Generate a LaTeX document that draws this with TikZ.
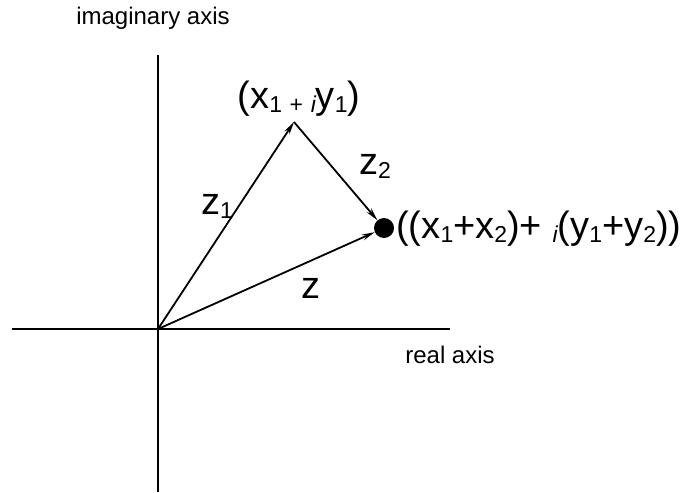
\documentclass[tikz,border=0pt]{standalone}
\usepackage{fontspec}
\setmainfont{Liberation Sans}
\usetikzlibrary{arrows.meta}
\newcommand\sbx[1]{\raisebox{-4pt}{\fontsize{23}{23}\selectfont #1}}
\newcommand\smi{\raisebox{-4pt}{\fontsize{23}{23}\selectfont\itshape i}}
\begin{document}
\begin{tikzpicture}[x=1pt,y=-1pt,
  axis/.style={line width=1.8pt},
  vec/.style={line width=1.8pt,-{Stealth[length=13pt,width=6pt]}},
  small/.style={font=\fontsize{24}{24}\selectfont,inner sep=0pt},
  big/.style={font=\fontsize{38}{38}\selectfont,inner sep=0pt}]
\useasboundingbox (0,0) rectangle (684,492);
\coordinate (O) at (158,329);
\coordinate (xl) at (12,329);
\coordinate (xr) at (450,329);
\coordinate (yt) at (158,55);
\coordinate (yb) at (158,492);
\draw[axis] (xl) -- (xr);
\draw[axis] (yt) -- (yb);
\coordinate (A) at (294,122);
\node[circle,fill=black,inner sep=0pt,minimum size=20pt] (B) at (384,228) {};
\draw[vec] (O) -- (A);
\draw[vec] (A) -- (B);
\draw[vec] (O) -- (B);
\node[small] (ia) at (153,18) {imaginary axis};
\node[small] (ra) at (450,355) {real axis};
\node[big] (la) at (299,99) {(x\sbx{1\,\,+\,\,}\smi y\sbx{1})};
\node[big,anchor=west] (lb) at (396,229) {((x\sbx{1}+x\sbx{2})+ \smi(y\sbx{1}+y\sbx{2}))};
\node[big] (z1) at (217,206) {z\sbx{1}};
\node[big] (z2) at (375,166) {z\sbx{2}};
\node[big] (z) at (311,288) {z};
\end{tikzpicture}
\end{document}
